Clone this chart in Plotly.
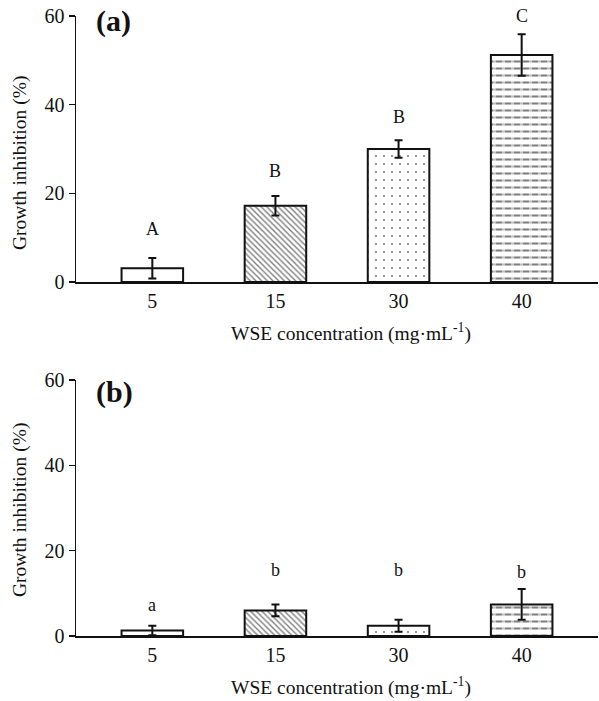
import plotly.graph_objects as go

categories = ["5", "15", "30", "40"]

# Panel (a)
vals_a = [3.1, 17.2, 30.0, 51.2]
err_a = [2.3, 2.2, 2.0, 4.7]
letters_a = ["A", "B", "B", "C"]
letter_y_a = [12.0, 25.0, 37.3, 60.0]

# Panel (b)
vals_b = [1.3, 6.0, 2.4, 7.4]
err_b = [1.1, 1.4, 1.4, 3.6]
letters_b = ["a", "b", "b", "b"]
letter_y_b = [7.2, 15.4, 15.4, 14.9]

y_ticks = [0, 20, 40, 60]

FONT = "Liberation Serif"
INK = "#111111"
W, H = 599, 701


def px_x(p):
    return p / W


def px_y(p):
    return 1 - p / H


xs = list(range(len(categories)))
fill_shapes = ["", "\\", ".", "-"]
cut_shapes = ["", "", "", "|"]

fig = go.Figure()


def add_panel(vals, errs, xa, ya):
    # patterned fill
    fig.add_trace(go.Bar(
        x=xs, y=vals, xaxis=xa, yaxis=ya, width=0.5,
        marker=dict(color="white", line=dict(width=0),
                    pattern=dict(shape=fill_shapes, fgcolor="#000000",
                                 bgcolor="white", size=[6, 4, 8, 7],
                                 solidity=[0.2, 0.35, 0.06, 0.3])),
        showlegend=False, hoverinfo="skip"))
    # white cuts (dashes) + outline + error bars
    fig.add_trace(go.Bar(
        x=xs, y=vals, xaxis=xa, yaxis=ya, width=0.5,
        marker=dict(color="rgba(0,0,0,0)", line=dict(width=2, color=INK),
                    pattern=dict(shape=cut_shapes, fgcolor="white",
                                 bgcolor="rgba(0,0,0,0)", size=9,
                                 solidity=0.35)),
        error_y=dict(type="data", array=errs, visible=True,
                     color=INK, thickness=2, width=4),
        showlegend=False, hoverinfo="skip"))


add_panel(vals_a, err_a, "x", "y")
add_panel(vals_b, err_b, "x2", "y2")

xdom = [px_x(76), px_x(598)]
axis_common_x = dict(
    domain=xdom, range=[-0.62, 3.62], tickmode="array", tickvals=xs,
    ticktext=categories, showline=True, linecolor=INK, linewidth=2,
    ticks="", showgrid=False, zeroline=False, automargin=False,
    ticklabeloverflow="allow",
    tickfont=dict(family=FONT, size=20, color=INK), fixedrange=True)
axis_common_y = dict(
    range=[0, 60], tickmode="array", tickvals=y_ticks, showline=True,
    linecolor=INK, linewidth=1.5, ticks="outside", ticklen=6, tickwidth=1.5,
    tickcolor=INK, showgrid=False, zeroline=False, automargin=False,
    ticklabeloverflow="allow",
    tickfont=dict(family=FONT, size=20, color=INK), fixedrange=True)

fig.update_layout(
    width=W, height=H, autosize=False,
    font=dict(family=FONT, color=INK),
    margin=dict(l=0, r=0, t=0, b=0, pad=0, autoexpand=False),
    paper_bgcolor="white", plot_bgcolor="white",
    barmode="overlay",
    xaxis=dict(**axis_common_x, anchor="y"),
    yaxis=dict(**axis_common_y, anchor="x",
               domain=[px_y(282), px_y(16)]),
    xaxis2=dict(**axis_common_x, anchor="y2"),
    yaxis2=dict(**axis_common_y, anchor="x2",
                domain=[px_y(636), px_y(380)]),
)

ann = []
for xr, yr, letters, ly in (("x", "y", letters_a, letter_y_a),
                            ("x2", "y2", letters_b, letter_y_b)):
    for i, (t, yv) in enumerate(zip(letters, ly)):
        ann.append(dict(x=xs[i], y=yv, xref=xr, yref=yr, text=t,
                        showarrow=False, xanchor="center", yanchor="middle",
                        font=dict(family=FONT, size=18, color=INK)))

for lbl, ypx in (("(a)", 21), ("(b)", 392)):
    ann.append(dict(x=px_x(94), y=px_y(ypx), xref="paper", yref="paper",
                    text="<b>" + lbl + "</b>", showarrow=False,
                    xanchor="left", yanchor="middle",
                    font=dict(family=FONT, size=30, color=INK)))

for ypx in (163, 510):
    ann.append(dict(x=px_x(20), y=px_y(ypx), xref="paper", yref="paper",
                    text="Growth inhibition (%)", textangle=-90,
                    showarrow=False, xanchor="center", yanchor="middle",
                    font=dict(family=FONT, size=19.5, color=INK)))

for ypx in (332, 686):
    ann.append(dict(x=px_x(351), y=px_y(ypx), xref="paper", yref="paper",
                    text="WSE concentration (mg·mL<sup>-1</sup>)",
                    showarrow=False, xanchor="center", yanchor="middle",
                    font=dict(family=FONT, size=19.5, color=INK)))

fig.update_layout(annotations=ann)

shapes = []
for xr, yr in (("x", "y"), ("x2", "y2")):
    for xe in (0, 1):
        shapes.append(dict(type="line", xref=xr + " domain", yref=yr,
                           x0=xe, x1=xe, ysizemode="pixel", yanchor=0,
                           y0=0, y1=-5, line=dict(color=INK, width=1.5)))
fig.update_layout(shapes=shapes)

fig.write_html("out.html",
               config={"displayModeBar": False, "staticPlot": True},
               post_script="document.body.style.margin='0px';"
                           "document.body.style.overflow='hidden';")
